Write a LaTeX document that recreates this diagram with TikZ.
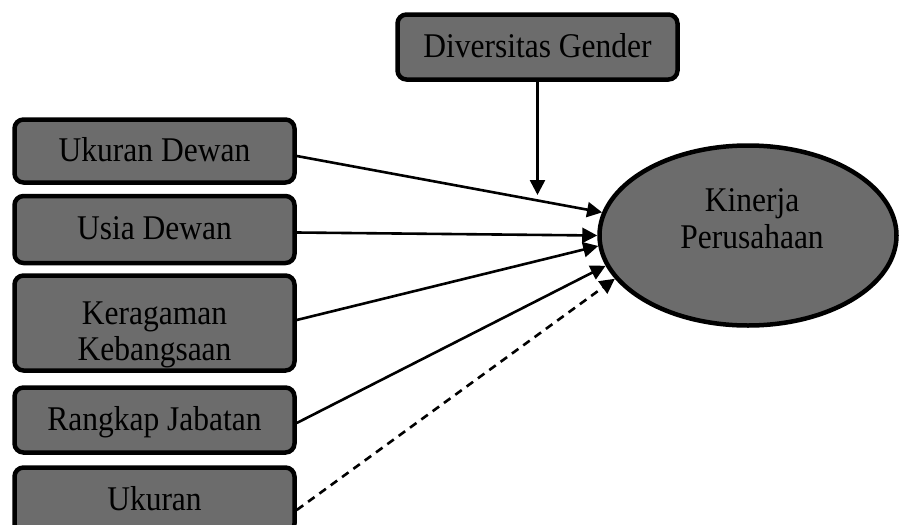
\documentclass[tikz,border=0pt]{standalone}
\usepackage{fontspec}
\usepackage{graphicx}
\setmainfont{Liberation Serif}
\usetikzlibrary{arrows.meta,shapes.geometric}
\definecolor{boxgray}{RGB}{108,108,108}
\newcommand{\vtxt}[1]{\scalebox{1}[1.1]{\fontsize{31.5}{33.2}\selectfont\begin{tabular}{@{}c@{}}#1\end{tabular}}}
\begin{document}
\begin{tikzpicture}[x=1pt,y=-1pt,
  varbox/.style={draw=black,line width=4.5pt,fill=boxgray,rounded corners=9pt,
    minimum width=280pt,inner sep=0pt,align=center},
  conn/.style={line width=2.6pt,-{Triangle[length=15pt,width=15pt]}},
  txt/.style={align=center,inner sep=0pt}]
\useasboundingbox (0,0) rectangle (900,525);
\node[varbox,minimum height=65pt] (dg) at (537.5,47) {};
\node[txt] (dgt) at (537.5,50) {\vtxt{Diversitas Gender}};
\node[varbox,minimum height=63pt] (ud) at (154.5,151) {};
\node[txt] (udt) at (154.5,154) {\vtxt{Ukuran Dewan}};
\node[varbox,minimum height=67pt] (us) at (154.5,229.5) {};
\node[txt] (ust) at (154.5,232.5) {\vtxt{Usia Dewan}};
\node[varbox,minimum height=95pt] (kk) at (154.5,323) {};
\node[txt] (kkt) at (154.5,335) {\vtxt{Keragaman\\Kebangsaan}};
\node[varbox,minimum height=65pt] (rj) at (154.5,420) {};
\node[txt] (rjt) at (154.5,423) {\vtxt{Rangkap Jabatan}};
\node[varbox,minimum height=65pt] (uk) at (154.5,500) {};
\node[txt] (ukt) at (154.5,503) {\vtxt{Ukuran}};
\node[ellipse,draw=black,line width=4.5pt,fill=boxgray,minimum width=297pt,
  minimum height=180pt,inner sep=0pt] (kp) at (748,235.5) {};
\node[txt] (kpt) at (752,222.5) {\vtxt{Kinerja\\Perusahaan}};
\coordinate (mod) at (537.5,195);
\draw[conn] (dg.south) -- (mod);
\draw[conn] ([yshift=-5pt]ud.east) -- (kp.171.6);
\draw[conn] ([yshift=-3pt]us.east) -- (kp.180);
\draw[conn] ([yshift=3pt]kk.east) -- (kp.184.7);
\draw[conn] ([yshift=-3pt]rj.east) -- (kp.192);
\draw[conn,dash pattern=on 8pt off 6pt] ([yshift=-10pt]uk.east) -- (kp.198.4);
\end{tikzpicture}
\end{document}
